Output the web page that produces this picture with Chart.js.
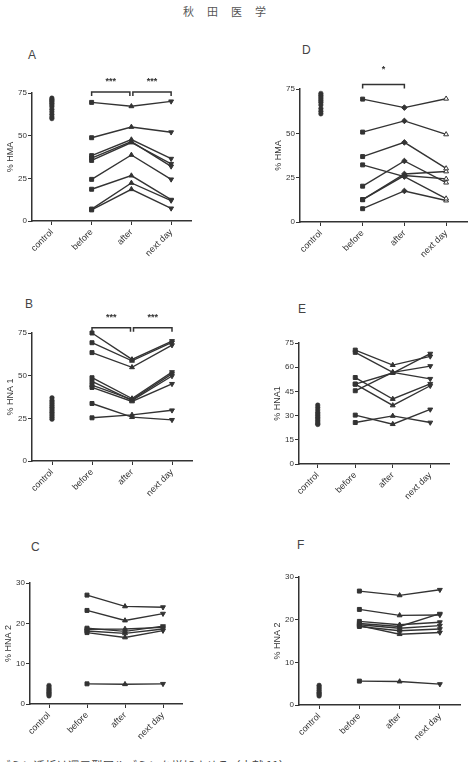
<!DOCTYPE html>
<html lang="ja">
<head>
  <meta charset="UTF-8" />
  <title>HMA / HNA1 / HNA2</title>
  <script src="https://cdn.jsdelivr.net/npm/chart.js"></script>
  <style>
    html, body { margin: 0; padding: 0; background: #fff; }
    #page { position: relative; width: 471px; height: 762px; overflow: hidden; font-family: "Liberation Sans", Arial, sans-serif; }
    .panel { position: absolute; }
    .letter { position: absolute; font-size: 12px; line-height: 12px; color: #444; }
    #header { position: absolute; top: 3px; left: 183px; font-family: "Noto Sans CJK JP", sans-serif; font-size: 11px; color: #555; letter-spacing: 13px; }
    #footer { position: absolute; top: 758px; left: -1px; font-family: "Noto Sans CJK JP", sans-serif; font-size: 11.5px; line-height: 14px; color: #444; white-space: nowrap; }
  </style>
</head>
<body>
<div id="page">
  <div id="header">秋田医学</div>

  <div class="letter" style="left:28px;top:49px">A</div>
  <div class="letter" style="left:25px;top:298px">B</div>
  <div class="letter" style="left:31px;top:541px">C</div>
  <div class="letter" style="left:302px;top:44px">D</div>
  <div class="letter" style="left:298px;top:303px">E</div>
  <div class="letter" style="left:297px;top:539px">F</div>

  <canvas id="chartA" class="panel"></canvas>
  <canvas id="chartB" class="panel"></canvas>
  <canvas id="chartC" class="panel"></canvas>
  <canvas id="chartD" class="panel"></canvas>
  <canvas id="chartE" class="panel"></canvas>
  <canvas id="chartF" class="panel"></canvas>

  <div id="footer">ブミン透析は還元型アルブミンを増加させる（文献 11）</div>
</div>

<script>
  const categories = ['control', 'before', 'after', 'next day'];

  // control group values (single column)
  const controlA = [72, 71.2, 70.5, 69.8, 69, 68, 67, 65.5, 64, 62.5, 61, 60];
  const controlB = [37, 35.5, 34.5, 33.5, 32.5, 31.5, 30.5, 29.5, 28.5, 27.5, 26.5, 25.5, 24.5];
  const controlC = [4.6, 4.2, 3.8, 3.5, 3.2, 2.9, 2.6, 2.3, 2.0];
  const controlD = [72.5, 71.5, 70.5, 69.5, 68.5, 67.5, 66, 64, 62.5, 61];
  const controlE = [36.5, 35, 33.5, 32, 31, 30, 29, 28, 27, 26, 25, 24.5];
  const controlF = [4.6, 4.2, 3.8, 3.4, 3.0, 2.7, 2.4, 2.1];

  // patients: [before, after, next day]
  const patientsA = [
    [69.5, 67.2, 70.1], [48.8, 55.1, 52.0], [38.3, 47.7, 36.5],
    [36.9, 46.5, 32.0], [35.5, 46.0, 33.5], [24.4, 38.7, 24.4],
    [18.6, 26.6, 12.5], [7.0, 22.3, 12.0], [6.5, 18.6, 7.4]
  ];
  const patientsB = [
    [75.0, 59.5, 70.3], [69.3, 58.7, 69.5], [63.5, 54.9, 67.9],
    [48.8, 36.6, 52.1], [46.6, 35.5, 49.8], [44.5, 36.0, 51.0],
    [43.1, 34.9, 45.2], [33.7, 25.7, 24.1], [25.3, 27.0, 29.7]
  ];
  const patientsC = [
    [27.0, 24.2, 24.0], [23.2, 20.7, 22.4], [18.8, 18.0, 19.3],
    [18.5, 18.6, 19.0], [18.1, 17.5, 18.6], [17.7, 16.5, 18.2],
    [5.0, 4.9, 5.0]
  ];
  const patientsD = [
    [69.3, 64.5, 69.5], [50.7, 57.0, 49.4], [36.9, 44.9, 30.2],
    [32.2, 25.6, 13.2], [20.2, 34.4, 22.2], [12.6, 27.1, 28.5],
    [12.6, 26.2, 24.3], [7.5, 17.5, 12.1]
  ];
  const patientsE = [
    [70.6, 61.3, 66.7], [69.2, 56.8, 52.8], [53.6, 40.3, 49.7],
    [49.5, 56.4, 68.4], [45.4, 56.8, 60.7], [49.5, 36.3, 48.5],
    [30.3, 24.7, 33.8], [25.7, 29.8, 25.7]
  ];
  const patientsF = [
    [26.7, 25.7, 27.0], [22.4, 21.0, 21.1], [19.6, 18.8, 19.4],
    [19.1, 18.4, 21.4], [18.8, 18.0, 18.6], [18.4, 17.4, 17.8],
    [18.6, 16.6, 17.0], [5.6, 5.5, 4.9]
  ];

  // significance brackets: [from index, to index, label]
  const bracketsA = [[1, 2, '***'], [2, 3, '***']];
  const bracketsB = [[1, 2, '***'], [2, 3, '***']];
  const bracketsD = [[1, 2, '*']];

  const INK = '#333';
  const PAD_TOP = 32, Y_W = 30, X_H = 52, PAD_RIGHT = 8;

  const bracketPlugin = {
    id: 'brackets',
    afterDraw(chart, args, opts) {
      if (!opts.items || !opts.items.length) return;
      const { ctx } = chart;
      const x = chart.scales.x, y = chart.scales.y;
      const by = y.getPixelForValue(opts.level);
      ctx.save();
      ctx.strokeStyle = INK;
      ctx.lineWidth = 1.5;
      ctx.fillStyle = INK;
      ctx.font = 'bold 9px "Liberation Sans", Arial';
      ctx.textAlign = 'center';
      ctx.textBaseline = 'middle';
      opts.items.forEach(([a, b, label]) => {
        let x1 = x.getPixelForValue(a), x2 = x.getPixelForValue(b);
        if (opts.items.length > 1) { if (a === 2) x1 += 1.5; if (b === 2) x2 -= 1.5; }
        ctx.beginPath();
        ctx.moveTo(x1, by + 4);
        ctx.lineTo(x1, by);
        ctx.lineTo(x2, by);
        ctx.lineTo(x2, by + 4);
        ctx.stroke();
        ctx.fillText(label, (x1 + x2) / 2, by - opts.gap);
      });
      ctx.restore();
    }
  };

  function makePanel(id, p) {
    const canvas = document.getElementById(id);
    const w = Y_W + (p.x1 - p.x0) + PAD_RIGHT;
    const h = PAD_TOP + (p.yBot - p.yTop) + X_H;
    canvas.width = Math.round(w);
    canvas.height = Math.round(h);
    canvas.style.left = (p.x0 - Y_W) + 'px';
    canvas.style.top = (p.yTop - PAD_TOP) + 'px';
    canvas.style.width = Math.round(w) + 'px';
    canvas.style.height = Math.round(h) + 'px';

    const markers = p.markers || ['rect', 'triangle', 'triangle'];
    const rotations = p.rotations || [0, 0, 180];
    const fills = p.fills || [INK, INK, INK];

    const datasets = [{
      data: p.control.map(v => ({ x: 'control', y: v })),
      showLine: false,
      pointStyle: 'circle',
      pointRadius: 2.3,
      pointBackgroundColor: INK,
      pointBorderColor: INK,
      pointBorderWidth: 0.5
    }];
    p.patients.forEach(row => {
      datasets.push({
        data: [null].concat(row),
        borderColor: INK,
        borderWidth: 1.4,
        tension: 0,
        pointStyle: [null].concat(markers),
        pointRotation: [0].concat(rotations),
        pointRadius: 2.8,
        pointBackgroundColor: [INK].concat(fills),
        pointBorderColor: INK,
        pointBorderWidth: 1,
        clip: false
      });
    });

    return new Chart(canvas, {
      type: 'line',
      data: { labels: categories, datasets },
      options: {
        responsive: false,
        animation: false,
        devicePixelRatio: 1,
        layout: { padding: { top: PAD_TOP, right: PAD_RIGHT, left: 0, bottom: 0 } },
        plugins: {
          legend: { display: false },
          tooltip: { enabled: false },
          brackets: { items: p.brackets || [], level: p.bracketLevel || 0, gap: p.starGap || 9 }
        },
        scales: {
          x: {
            type: 'category',
            offset: true,
            afterFit: s => { s.height = X_H; },
            border: { color: INK, width: 1.5 },
            grid: { offset: false, drawOnChartArea: false, tickLength: 4, color: INK, lineWidth: 1 },
            ticks: { autoSkip: false, maxRotation: 45, minRotation: 45, padding: 2, color: INK,
                     font: { family: '"Liberation Sans", Arial', size: 9 } }
          },
          y: {
            min: 0,
            max: p.max,
            afterFit: s => { s.width = Y_W; },
            border: { color: INK, width: 1.5 },
            grid: { drawOnChartArea: false, tickLength: 4, color: INK, lineWidth: 1 },
            ticks: { stepSize: p.step, padding: 1, color: INK,
                     font: { family: '"Liberation Sans", Arial', size: 8 } },
            title: { display: true, text: p.label, color: INK, padding: { top: 3, bottom: 0 },
                     font: { family: '"Liberation Sans", Arial', size: 9 } }
          }
        }
      },
      plugins: [bracketPlugin]
    });
  }

  makePanel('chartA', { x0: 32, x1: 191, yTop: 93.3, yBot: 221.3, max: 75, step: 25, label: '% HMA',
    control: controlA, patients: patientsA, brackets: bracketsA, bracketLevel: 75.6, starGap: 10 });
  makePanel('chartB', { x0: 32, x1: 191.7, yTop: 332.7, yBot: 460.3, max: 75, step: 25, label: '% HNA 1',
    control: controlB, patients: patientsB, brackets: bracketsB, bracketLevel: 78.1, starGap: 10 });
  makePanel('chartC', { x0: 30, x1: 182.3, yTop: 582.7, yBot: 704, max: 30, step: 10, label: '% HNA 2',
    control: controlC, patients: patientsC });
  makePanel('chartD', { x0: 300, x1: 466.7, yTop: 89.3, yBot: 222, max: 75, step: 25, label: '% HMA',
    control: controlD, patients: patientsD, brackets: bracketsD, bracketLevel: 77.6, starGap: 15,
    markers: ['rect', 'rectRot', 'triangle'], rotations: [0, 0, 0], fills: [INK, INK, '#fff'] });
  makePanel('chartE', { x0: 299.3, x1: 449.3, yTop: 343.3, yBot: 464, max: 75, step: 15, label: '% HNA1',
    control: controlE, patients: patientsE });
  makePanel('chartF', { x0: 299.3, x1: 460.7, yTop: 577.3, yBot: 705.3, max: 30, step: 10, label: '% HNA 2',
    control: controlF, patients: patientsF });
</script>
</body>
</html>
